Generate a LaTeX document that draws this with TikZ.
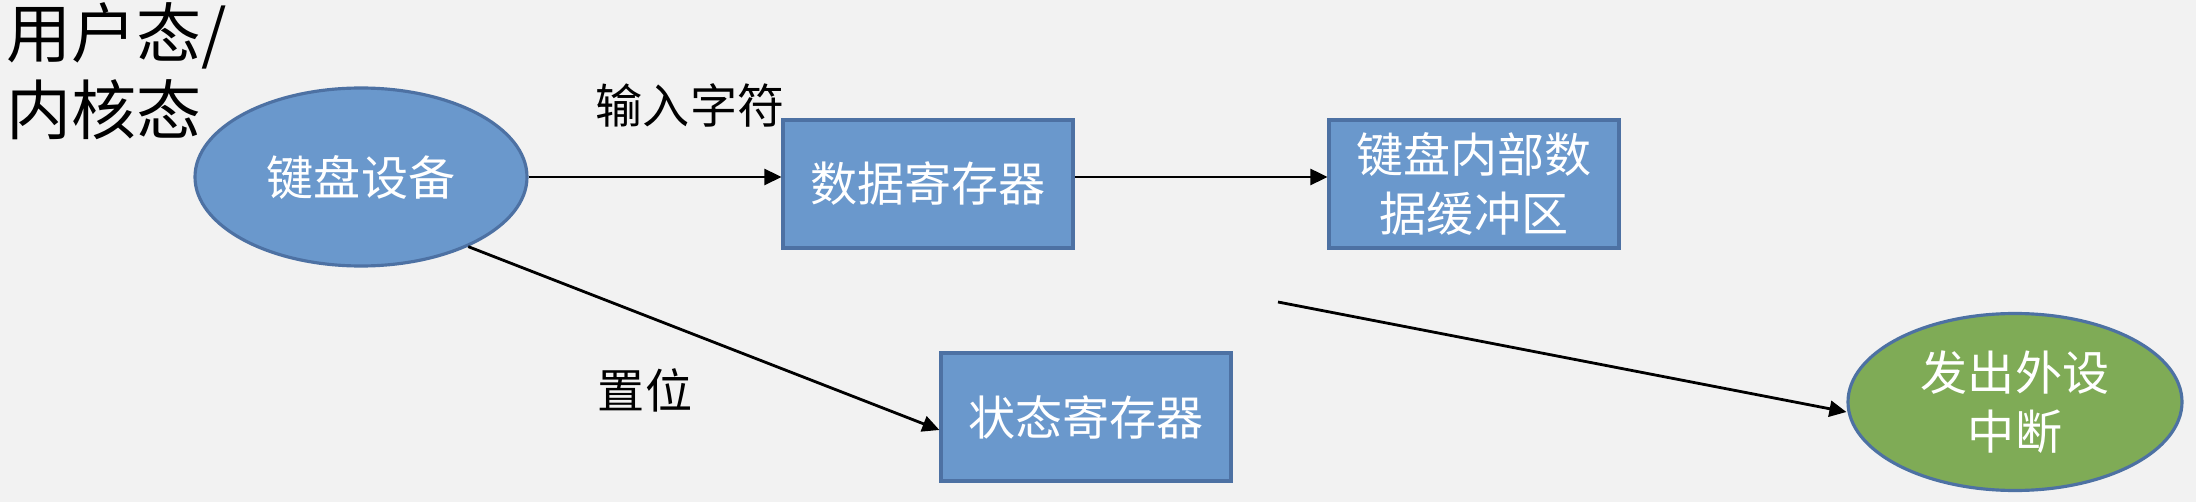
\documentclass[tikz,border=0pt]{standalone}
\usepackage{fontspec}
\setmainfont{Noto Sans CJK SC}
\usetikzlibrary{arrows.meta,shapes.geometric}

\definecolor{bgray}{HTML}{F2F2F2}
\definecolor{boxblue}{HTML}{6A98CC}
\definecolor{edgeblue}{HTML}{4D71A3}
\definecolor{irqgreen}{HTML}{7FAB56}

\begin{document}
\begin{tikzpicture}[
	unit/.style = {draw = edgeblue, line width = 0.9pt, text = white, align = center,
		font = \fontsize{13.4}{17}\selectfont, inner sep = 0pt},
	regbox/.style = {unit, rectangle, fill = boxblue, minimum width = 2.9cm, minimum height = 1.28cm},
	devshape/.style = {unit, ellipse, minimum width = 3.32cm, minimum height = 1.78cm},
	flow/.style = {line width = 0.8pt, -{Triangle[length = 1.7mm, width = 1.6mm]}},
	tag/.style = {font = \fontsize{13.4}{17}\selectfont}
]

\fill[bgray] (0, 0) rectangle (21.96, 5.02);
\useasboundingbox (0, 0) rectangle (21.96, 5.02);

\node[anchor = north west, align = left, inner sep = 0pt, font = \fontsize{18.5}{22}\selectfont]
	(mode) at (0.06, 5.00) {用户态/\\内核态};

\node[devshape, fill = boxblue] (kbd) at (3.61, 3.25) {键盘设备};
\node[regbox] (datareg) at (9.28, 3.18) {数据寄存器};
\node[regbox] (buffer) at (14.74, 3.18) {键盘内部数\\据缓冲区};
\node[regbox] (statreg) at (10.86, 0.85) {状态寄存器};
\node[devshape, fill = irqgreen, minimum width = 3.34cm, minimum height = 1.77cm]
	(irq) at (20.15, 1.00) {发出外设\\中断};

\node[tag] (input) at (6.90, 3.97) {输入字符};
\node[tag] (setbit) at (6.45, 1.12) {置位};

\coordinate (irqstart) at (12.78, 2.00);

\draw[flow] (kbd.east) -- (kbd.east -| datareg.west);
\draw[flow] (kbd.east -| datareg.east) -- (kbd.east -| buffer.west);
\draw[flow] (kbd.-33) -- ([yshift = -0.13cm]statreg.west);
\draw[flow] (irqstart) -- ([yshift = -0.1cm]irq.west);

\end{tikzpicture}
\end{document}
